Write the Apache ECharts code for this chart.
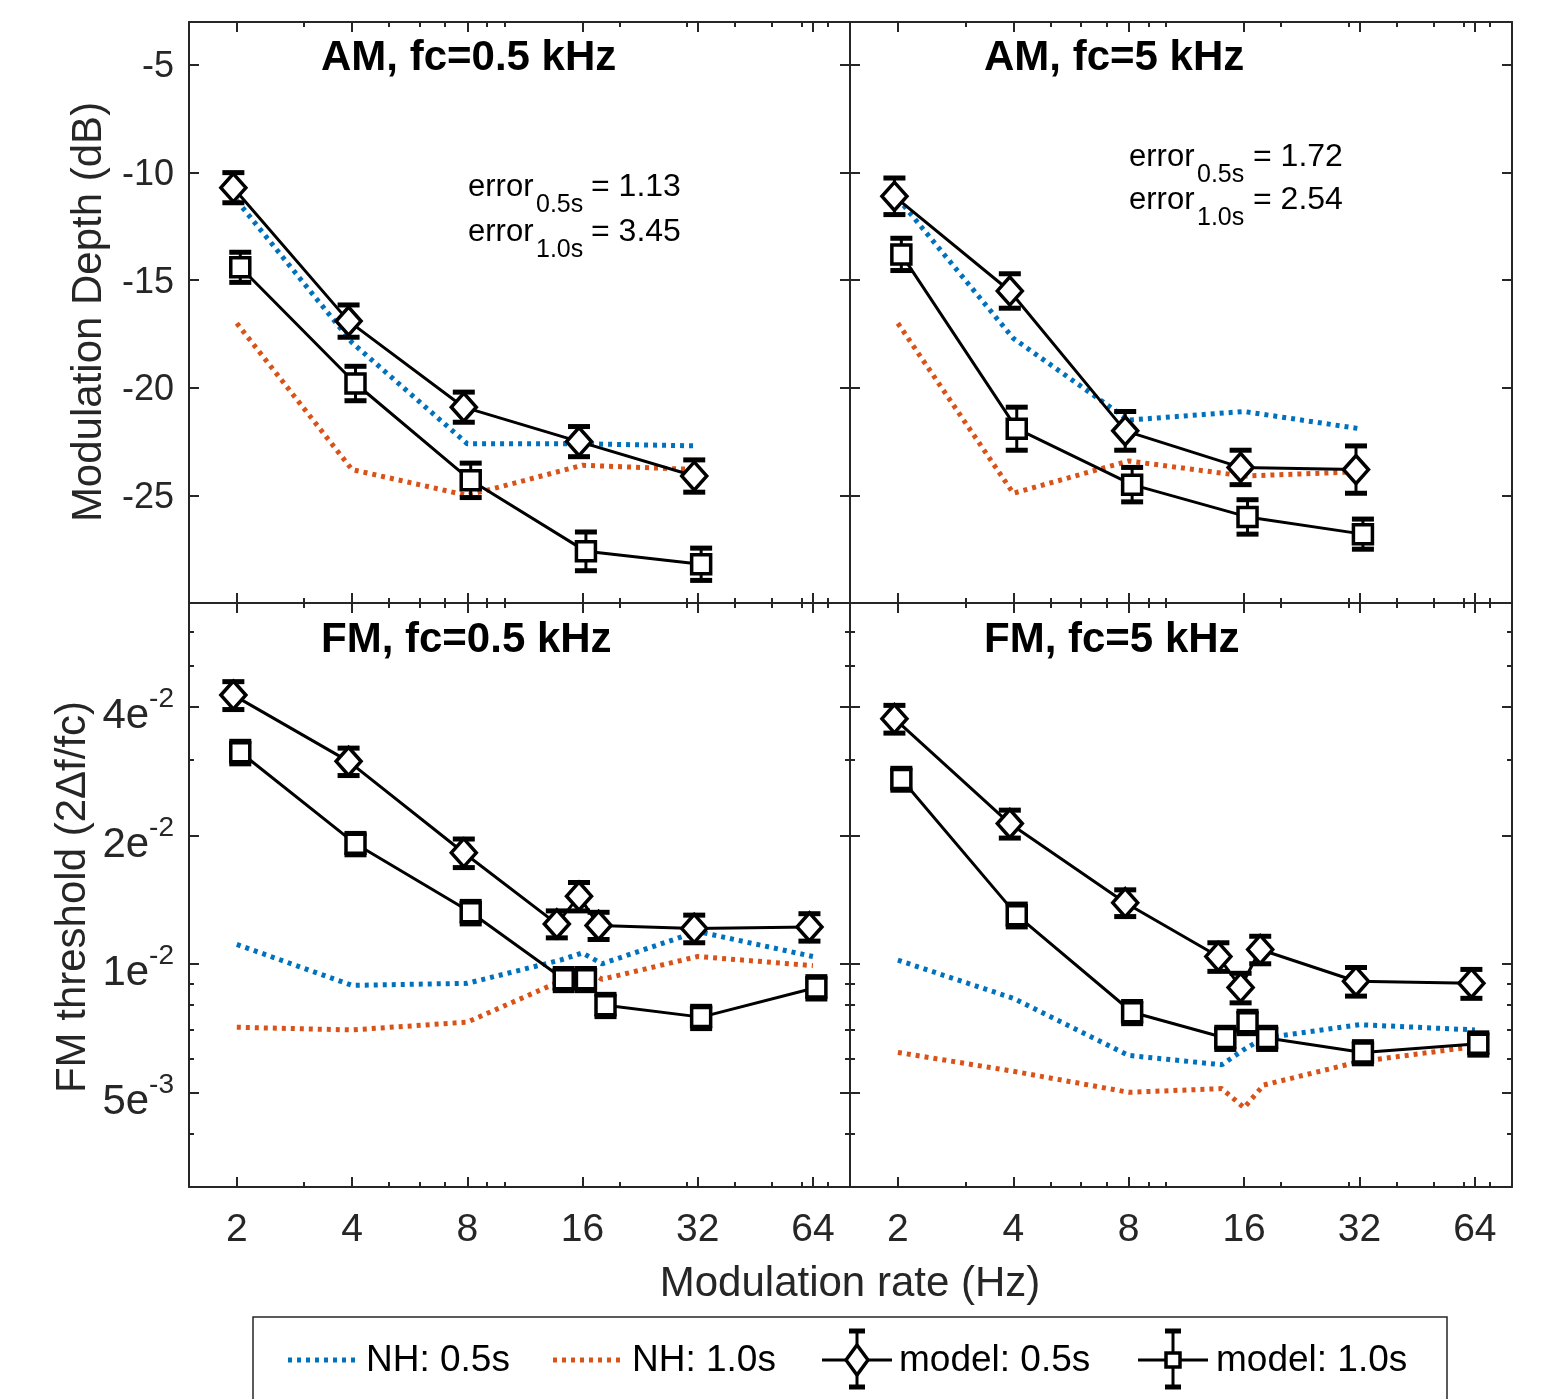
<!DOCTYPE html>
<html><head><meta charset="utf-8">
<script src="https://cdn.jsdelivr.net/npm/echarts@6/dist/echarts.min.js"></script>
<style>html,body{margin:0;padding:0;background:#fff}#c{width:1555px;height:1399px}</style>
</head><body><div id="c"></div><script>
// ---------- data ----------
const ratesAM = [2, 4, 8, 16, 32];
const ratesFM = [2, 4, 8, 14, 16, 18, 32, 64];
const xTickValues = [2, 4, 8, 16, 32, 64];
const xMinorTicks = [3, 5, 6, 7, 9, 10, 20, 30, 40, 50, 60, 70];
const amTickValues = [-25, -20, -15, -10, -5];
const fmTickValues = [0.005, 0.01, 0.02, 0.04];
const fmTickMantissa = ['5e', '1e', '2e', '4e'];
const fmTickExponent = ['-3', '-2', '-2', '-2'];
const fmMinorTicks = [0.004, 0.006, 0.007, 0.008, 0.009, 0.03, 0.05, 0.06];

const panelTitles = ['AM, fc=0.5 kHz', 'AM, fc=5 kHz', 'FM, fc=0.5 kHz', 'FM, fc=5 kHz'];
const seriesNames = ['NH: 0.5s', 'NH: 1.0s', 'model: 0.5s', 'model: 1.0s'];
const errorLabels = [['0.5s', '1.13'], ['1.0s', '3.45'], ['0.5s', '1.72'], ['1.0s', '2.54']];

// AM, fc = 0.5 kHz (dB)
const amLow_nh05 = [-11.3, -17.9, -22.6, -22.6, -22.7];
const amLow_nh10 = [-17.0, -23.8, -25.0, -23.6, -23.8];
const amLow_m05 = [-10.7, -16.9, -20.9, -22.5, -24.1];
const amLow_m05err = [0.7, 0.75, 0.7, 0.7, 0.75];
const amLow_m10 = [-14.4, -19.8, -24.3, -27.6, -28.2];
const amLow_m10err = [0.7, 0.8, 0.8, 0.9, 0.75];

// AM, fc = 5 kHz (dB)
const amHigh_nh05 = [-11.2, -17.7, -21.5, -21.1, -21.9];
const amHigh_nh10 = [-17.0, -24.9, -23.4, -24.1, -23.9];
const amHigh_m05 = [-11.1, -15.5, -22.0, -23.7, -23.8];
const amHigh_m05err = [0.85, 0.8, 0.9, 0.8, 1.1];
const amHigh_m10 = [-13.8, -21.9, -24.5, -26.0, -26.8];
const amHigh_m10err = [0.75, 1.0, 0.8, 0.8, 0.7];

// FM, fc = 0.5 kHz (2Δf/fc)
const fmLow_nh05 = [0.0111, 0.0089, 0.0090, 0.0102, 0.0106, 0.0100, 0.0119, 0.0104];
const fmLow_nh10 = [0.0071, 0.0070, 0.0073, 0.0091, 0.0098, 0.0092, 0.0104, 0.0099];
const fmLow_m05 = [0.0426, 0.0298, 0.0182, 0.0124, 0.0144, 0.0123, 0.0121, 0.0122];
const fmLow_m05err = [0.0032, 0.0022, 0.0014, 0.0009, 0.0011, 0.0009, 0.0009, 0.0009];
const fmLow_m10 = [0.0313, 0.0191, 0.0132, 0.0092, 0.0092, 0.0080, 0.0075, 0.0088];
const fmLow_m10err = [0.0019, 0.0011, 0.0008, 0.00055, 0.00055, 0.00048, 0.00045, 0.00053];

// FM, fc = 5 kHz (2Δf/fc)
const fmHigh_nh05 = [0.0102, 0.0083, 0.0061, 0.0058, 0.0063, 0.0067, 0.0072, 0.0070];
const fmHigh_nh10 = [0.0062, 0.0056, 0.0050, 0.0051, 0.0046, 0.0052, 0.0059, 0.0064];
const fmHigh_m05 = [0.0375, 0.0213, 0.0139, 0.0104, 0.0088, 0.0108, 0.0091, 0.0090];
const fmHigh_m05err = [0.0028, 0.0016, 0.0010, 0.0008, 0.0007, 0.0008, 0.0007, 0.0007];
const fmHigh_m10 = [0.0271, 0.0130, 0.0077, 0.0067, 0.0073, 0.0067, 0.0062, 0.0065];
const fmHigh_m10err = [0.0016, 0.0008, 0.00046, 0.0004, 0.00044, 0.0004, 0.00037, 0.00039];

// ---------- styling / layout ----------
const FONT = '"Liberation Sans", Arial, Helvetica, sans-serif';
const AX = '#262626';
const BLUE = '#0072BD';
const ORANGE = '#D95319';
const XMIN = Math.log2(1.5), XMAX = Math.log2(80);
const AMMIN = -30, AMMAX = -3;
const FMMIN = Math.log2(0.003), FMMAX = Math.log2(0.07);
const DODGE = 0.03;

const panels = [
  {kind: 'am', rect: {left: 189, top: 22, width: 661, height: 581}, xLab: false, yLab: true,
   x: ratesAM, nh05: amLow_nh05, nh10: amLow_nh10, m05: amLow_m05, m05e: amLow_m05err, m10: amLow_m10, m10e: amLow_m10err},
  {kind: 'am', rect: {left: 850, top: 22, width: 662, height: 581}, xLab: false, yLab: false,
   x: ratesAM, nh05: amHigh_nh05, nh10: amHigh_nh10, m05: amHigh_m05, m05e: amHigh_m05err, m10: amHigh_m10, m10e: amHigh_m10err},
  {kind: 'fm', rect: {left: 189, top: 603, width: 661, height: 584}, xLab: true, yLab: true,
   x: ratesFM, nh05: fmLow_nh05, nh10: fmLow_nh10, m05: fmLow_m05, m05e: fmLow_m05err, m10: fmLow_m10, m10e: fmLow_m10err},
  {kind: 'fm', rect: {left: 850, top: 603, width: 662, height: 584}, xLab: true, yLab: false,
   x: ratesFM, nh05: fmHigh_nh05, nh10: fmHigh_nh10, m05: fmHigh_m05, m05e: fmHigh_m05err, m10: fmHigh_m10, m10e: fmHigh_m10err}
];

const yConv = (kind, v) => kind === 'fm' ? Math.log2(v) : v;
const near = (a, b) => Math.abs(a - b) < 1e-6;

const grids = [], xAxes = [], yAxes = [], series = [], titles = [];

function xAxis(gi, pos, ticks, len, showLine, showLabel) {
  return {
    type: 'value', gridIndex: gi, position: pos, min: XMIN, max: XMAX,
    axisLine: {show: showLine, onZero: false, lineStyle: {color: AX, width: 2}},
    axisTick: {show: true, inside: true, length: len, customValues: ticks, lineStyle: {color: AX, width: 2}},
    axisLabel: {show: showLabel, customValues: ticks, margin: 24, fontSize: 39, fontFamily: FONT, color: AX,
      formatter: v => String(Math.round(Math.pow(2, v)))},
    splitLine: {show: false}
  };
}
function yAxis(gi, kind, pos, ticks, len, showLine, showLabel, visible) {
  const isFm = kind === 'fm';
  return {
    type: 'value', gridIndex: gi, position: pos,
    min: isFm ? FMMIN : AMMIN, max: isFm ? FMMAX : AMMAX, show: visible,
    axisLine: {show: showLine, onZero: false, lineStyle: {color: AX, width: 2}},
    axisTick: {show: true, inside: true, length: len, customValues: ticks, lineStyle: {color: AX, width: 2}},
    axisLabel: {show: showLabel, customValues: ticks, margin: 15, fontSize: 36, fontFamily: FONT, color: AX,
      padding: isFm ? 0 : [5, 0, 0, 0],
      formatter: v => {
        if (!isFm) return String(Math.round(v));
        const i = fmTickValues.findIndex(t => near(Math.log2(t), v));
        return i < 0 ? '' : '{m|' + fmTickMantissa[i] + '}{s|' + fmTickExponent[i] + '}';
      },
      rich: {
        m: {fontSize: 42, fontFamily: FONT, color: AX, padding: [20, 0, 0, 0], verticalAlign: 'top'},
        s: {fontSize: 28, fontFamily: FONT, color: AX, padding: [10, 0, 0, 0], verticalAlign: 'top'}
      }
    },
    splitLine: {show: false}
  };
}

function errRender(params, api) {
  const x = api.value(0), lo = api.value(1), hi = api.value(2);
  const p1 = api.coord([x, lo]), p2 = api.coord([x, hi]);
  const cw = 11;
  return {
    type: 'group',
    children: [
      {type: 'line', shape: {x1: p1[0], y1: p1[1], x2: p2[0], y2: p2[1]}, style: {stroke: '#000', lineWidth: 3}},
      {type: 'line', shape: {x1: p1[0] - cw, y1: p1[1], x2: p1[0] + cw, y2: p1[1]}, style: {stroke: '#000', lineWidth: 5}},
      {type: 'line', shape: {x1: p2[0] - cw, y1: p2[1], x2: p2[0] + cw, y2: p2[1]}, style: {stroke: '#000', lineWidth: 5}}
    ]
  };
}

const xMajor = xTickValues.map(v => Math.log2(v));
const xMinor = xMinorTicks.map(v => Math.log2(v));

panels.forEach((p, gi) => {
  grids.push(Object.assign({show: false, outerBoundsMode: 'none', containLabel: false}, p.rect));
  xAxes.push(xAxis(gi, 'bottom', xMajor, 10, true, p.xLab));
  xAxes.push(xAxis(gi, 'top', xMajor, 10, true, false));
  xAxes.push(xAxis(gi, 'bottom', xMinor, 5, false, false));
  xAxes.push(xAxis(gi, 'top', xMinor, 5, false, false));
  const yMaj = p.kind === 'fm' ? fmTickValues.map(v => Math.log2(v)) : amTickValues;
  const yMin = p.kind === 'fm' ? fmMinorTicks.map(v => Math.log2(v)) : [];
  yAxes.push(yAxis(gi, p.kind, 'left', yMaj, 10, true, p.yLab, true));
  yAxes.push(yAxis(gi, p.kind, 'right', yMaj, 10, true, false, true));
  yAxes.push(yAxis(gi, p.kind, 'left', yMin, 5, false, false, p.kind === 'fm'));
  yAxes.push(yAxis(gi, p.kind, 'right', yMin, 5, false, false, p.kind === 'fm'));

  const xi = gi * 4, yi = gi * 4;
  const pt = (arr, dx) => p.x.map((r, k) => [Math.log2(r) + dx, yConv(p.kind, arr[k])]);
  const ebar = (arr, err, dx) => p.x.map((r, k) => [Math.log2(r) + dx, yConv(p.kind, arr[k] - err[k]), yConv(p.kind, arr[k] + err[k])]);

  series.push({type: 'line', name: seriesNames[0], xAxisIndex: xi, yAxisIndex: yi, data: pt(p.nh05, 0),
    symbol: 'none', z: 2, silent: true, lineStyle: {color: BLUE, width: 5, type: [4, 5], cap: 'butt'}});
  series.push({type: 'line', name: seriesNames[1], xAxisIndex: xi, yAxisIndex: yi, data: pt(p.nh10, 0),
    symbol: 'none', z: 2, silent: true, lineStyle: {color: ORANGE, width: 5, type: [4, 5], cap: 'butt'}});
  series.push({type: 'custom', xAxisIndex: xi, yAxisIndex: yi, data: ebar(p.m05, p.m05e, -DODGE),
    renderItem: errRender, z: 3, silent: true, encode: {x: 0, y: [1, 2]}});
  series.push({type: 'custom', xAxisIndex: xi, yAxisIndex: yi, data: ebar(p.m10, p.m10e, DODGE),
    renderItem: errRender, z: 3, silent: true, encode: {x: 0, y: [1, 2]}});
  series.push({type: 'line', name: seriesNames[2], xAxisIndex: xi, yAxisIndex: yi, data: pt(p.m05, -DODGE),
    symbol: 'diamond', symbolSize: [25, 28], z: 4, silent: true,
    itemStyle: {color: '#fff', borderColor: '#000', borderWidth: 3.5},
    lineStyle: {color: '#000', width: 3}});
  series.push({type: 'line', name: seriesNames[3], xAxisIndex: xi, yAxisIndex: yi, data: pt(p.m10, DODGE),
    symbol: 'rect', symbolSize: 19, z: 4, silent: true,
    itemStyle: {color: '#fff', borderColor: '#000', borderWidth: 3.5},
    lineStyle: {color: '#000', width: 3}});

  titles.push({text: panelTitles[gi], left: gi % 2 === 0 ? 321 : 984, top: gi < 2 ? 37 : 619, padding: 0,
    textStyle: {fontSize: 42, fontWeight: 'bold', fontFamily: FONT, color: '#000'}});
});

// ---------- graphic texts (annotations, axis names, legend) ----------
function txt(x, y, text, size, align, color) {
  return {type: 'text', x: x, y: y, silent: true,
    style: {text: text, fontSize: size, fontFamily: FONT, fill: color || '#000', align: align || 'left', verticalAlign: 'middle'}};
}
const g = [];
// error annotations
const ann = [
  {x: 468, xs: 536, xe: 591, b1: 197, b2: 242},
  {x: 1129, xs: 1197, xe: 1253, b1: 167, b2: 210}
];
ann.forEach((a, i) => {
  [a.b1, a.b2].forEach((b, j) => {
    const lab = errorLabels[i * 2 + j];
    g.push(txt(a.x, b - 10, 'error', 31));
    g.push(txt(a.xs, b + 16 - 8, lab[0], 25));
    g.push(txt(a.xe, b - 10, '= ' + lab[1], 32));
  });
});
// axis names
g.push(txt(850, 1284, 'Modulation rate (Hz)', 42, 'center', AX));
g.push(Object.assign(txt(89, 312, 'Modulation Depth (dB)', 42, 'center', AX), {rotation: Math.PI / 2}));
g.push(Object.assign(txt(73, 897, 'FM threshold (2Δf/fc)', 42, 'center', AX), {rotation: Math.PI / 2}));
// legend
const LY = 1360;
g.push({type: 'rect', shape: {x: 253, y: 1317, width: 1194, height: 110}, silent: true,
  style: {fill: '#fff', stroke: AX, lineWidth: 1.5}});
g.push({type: 'line', shape: {x1: 288, y1: LY, x2: 357, y2: LY}, silent: true, style: {stroke: BLUE, lineWidth: 5, lineDash: [4, 5]}});
g.push(txt(366, LY + 1, seriesNames[0], 37));
g.push({type: 'line', shape: {x1: 553, y1: LY, x2: 622, y2: LY}, silent: true, style: {stroke: ORANGE, lineWidth: 5, lineDash: [4, 5]}});
g.push(txt(632, LY + 1, seriesNames[1], 37));
function legendBar(cx) {
  g.push({type: 'line', shape: {x1: cx, y1: 1331, x2: cx, y2: 1387}, silent: true, style: {stroke: '#000', lineWidth: 3}});
  g.push({type: 'line', shape: {x1: cx - 8, y1: 1331, x2: cx + 8, y2: 1331}, silent: true, style: {stroke: '#000', lineWidth: 5}});
  g.push({type: 'line', shape: {x1: cx - 8, y1: 1387, x2: cx + 8, y2: 1387}, silent: true, style: {stroke: '#000', lineWidth: 5}});
}
g.push({type: 'line', shape: {x1: 822, y1: LY, x2: 892, y2: LY}, silent: true, style: {stroke: '#000', lineWidth: 3}});
legendBar(857);
g.push({type: 'polygon', shape: {points: [[857, 1345], [868, 1360], [857, 1375], [846, 1360]]}, silent: true,
  style: {fill: '#fff', stroke: '#000', lineWidth: 3.5}});
g.push(txt(899, LY + 1, seriesNames[2], 37));
g.push({type: 'line', shape: {x1: 1138, y1: LY, x2: 1208, y2: LY}, silent: true, style: {stroke: '#000', lineWidth: 3}});
legendBar(1173);
g.push({type: 'rect', shape: {x: 1166, y: 1353, width: 14, height: 14}, silent: true,
  style: {fill: '#fff', stroke: '#000', lineWidth: 3.5}});
g.push(txt(1216, LY + 1, seriesNames[3], 37));

const chart = echarts.init(document.getElementById('c'), null, {renderer: 'canvas'});
chart.setOption({
  animation: false,
  backgroundColor: '#fff',
  title: titles,
  grid: grids,
  xAxis: xAxes,
  yAxis: yAxes,
  series: series,
  graphic: {elements: g}
});
</script></body></html>
